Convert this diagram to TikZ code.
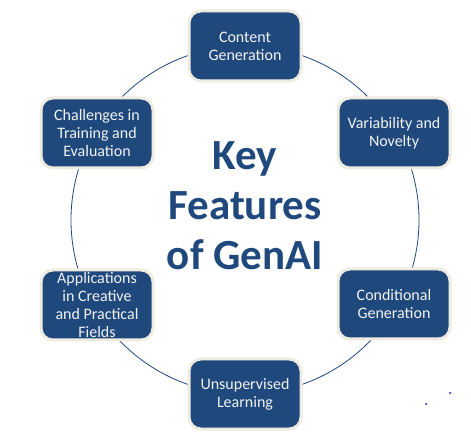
\documentclass[tikz,border=0pt]{standalone}
\usepackage{fontspec}
\setmainfont{Carlito}
\definecolor{boxblue}{RGB}{31,73,125}
\definecolor{boxrim}{RGB}{238,236,225}
\definecolor{boxtext}{RGB}{242,242,242}
\begin{document}
\begin{tikzpicture}[x=1pt,y=-1pt,
  feature/.style={draw=boxrim, line width=3pt, fill=boxblue, rounded corners=12pt,
    minimum width=112pt, minimum height=70pt, inner sep=1pt, align=center,
    text=boxtext, font=\fontsize{16}{18}\selectfont},
  ring/.style={draw=boxblue, line width=0.8pt},
  title/.style={text=boxblue, align=center, font=\bfseries\fontsize{43}{50}\selectfont},
  speck/.style={fill=blue, draw=none}]
\useasboundingbox (0,0) rectangle (471,443);
\coordinate (c) at (245,220);
\draw[ring] (c) circle (174);
\node[title] (t) at (245,206) {Key\\Features\\of GenAI};
\node[feature] (n1) at (245,46) {Content\\Generation};
\node[feature] (n2) at (394,133) {Variability and\\Novelty};
\node[feature] (n3) at (394,304) {Conditional\\Generation};
\node[feature] (n4) at (245,394) {Unsupervised\\Learning};
\node[feature, font=\fontsize{16}{17.8}\selectfont] (n5) at (97,305) {Applications\\in Creative\\and Practical\\Fields};
\node[feature] (n6) at (97,133) {Challenges in\\Training and\\Evaluation};
\fill[speck] (450,393) circle (1);
\fill[speck] (426,404) circle (1);
\end{tikzpicture}
\end{document}
